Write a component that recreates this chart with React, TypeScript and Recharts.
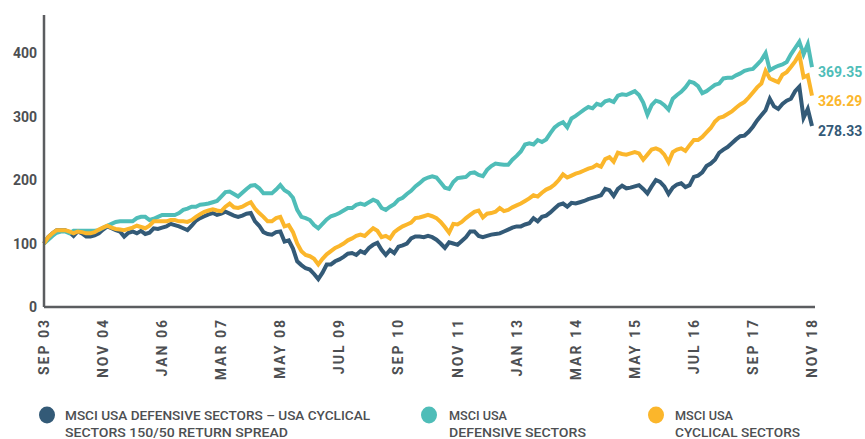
import React from 'react';
import { LineChart, Line, XAxis, YAxis, LabelList } from 'recharts';

if (typeof document !== 'undefined') {
  document.body.style.margin = '0';
}

const TICK_LABELS = ['SEP 03', 'NOV 04', 'JAN 06', 'MAR 07', 'MAY 08', 'JUL 09', 'SEP 10', 'NOV 11', 'JAN 13', 'MAR 14', 'MAY 15', 'JUL 16', 'SEP 17', 'NOV 18'];
const TICK_INDEX = [0, 14, 28, 42, 56, 70, 84, 98, 112, 126, 140, 154, 168, 182];
const Y_TICKS = [0, 100, 200, 300, 400];

// MSCI USA Defensive – Cyclical 150/50 return spread (monthly, Sep 03 – Nov 18)
const SPREAD = [
  100, 110, 116, 121, 121, 121, 118, 112, 119, 116,
  111, 111, 113, 116, 122, 127, 124, 121, 119, 111,
  117, 119, 116, 120, 115, 117, 124, 123, 125, 127,
  131, 129, 127, 124, 121, 128, 136, 140, 143, 146,
  148, 145, 147, 150, 147, 144, 142, 144, 147, 148,
  135, 128, 118, 115, 114, 118, 119, 103, 105, 92,
  72, 66, 61, 59, 52, 44, 54, 67, 67, 72,
  75, 79, 84, 85, 82, 88, 85, 93, 98, 101,
  90, 82, 90, 85, 95, 97, 100, 108, 111, 111,
  110, 112, 110, 106, 100, 93, 102, 100, 98, 104,
  110, 119, 119, 112, 110, 112, 114, 115, 116, 119,
  122, 125, 127, 127, 130, 132, 140, 135, 142, 144,
  149, 155, 161, 163, 158, 164, 163, 165, 167, 170,
  172, 174, 176, 186, 184, 175, 186, 191, 187, 188,
  190, 192, 186, 179, 190, 200, 197, 190, 178, 188,
  193, 195, 189, 192, 205, 207, 212, 222, 226, 232,
  243, 248, 252, 258, 264, 269, 270, 276, 284, 294,
  302, 310, 328, 316, 312, 320, 325, 328, 340, 347,
  298, 312, 285,
];

const DEFENSIVE = [
  100, 106, 112, 117, 119, 119, 116, 120, 120, 120,
  120, 120, 120, 121, 125, 128, 131, 134, 135, 135,
  135, 135, 140, 142, 142, 137, 139, 142, 145, 145,
  145, 145, 148, 153, 155, 158, 158, 161, 162, 163,
  165, 167, 174, 181, 182, 178, 174, 180, 186, 191,
  192, 187, 179, 179, 179, 185, 192, 184, 180, 172,
  153, 142, 140, 137, 129, 124, 131, 138, 143, 145,
  148, 152, 156, 156, 161, 163, 161, 165, 169, 166,
  156, 153, 158, 162, 169, 172, 178, 183, 190, 195,
  201, 204, 206, 204, 196, 188, 186, 197, 203, 204,
  205, 211, 212, 208, 206, 216, 222, 226, 225, 224,
  224, 232, 238, 245, 256, 258, 256, 263, 260, 264,
  274, 283, 288, 291, 283, 297, 301, 306, 311, 315,
  313, 320, 318, 324, 326, 323, 333, 335, 334, 337,
  340, 334, 322, 303, 318, 325, 323, 318, 311, 328,
  334, 339, 346, 355, 353, 348, 337, 340, 345, 350,
  352, 360, 361, 361, 365, 368, 372, 374, 375, 382,
  389, 400, 373, 377, 380, 382, 386, 398, 408, 418,
  398, 414, 378,
];

const CYCLICAL = [
  100, 110, 116, 121, 121, 121, 119, 116, 119, 118,
  116, 116, 118, 122, 125, 128, 125, 123, 122, 121,
  123, 125, 128, 126, 124, 128, 135, 135, 135, 135,
  137, 137, 135, 135, 134, 137, 142, 146, 150, 152,
  154, 152, 151, 158, 163, 157, 156, 158, 162, 165,
  155, 148, 142, 135, 135, 140, 142, 127, 129, 118,
  100, 88, 82, 80, 76, 67, 76, 83, 88, 93,
  96, 100, 105, 108, 112, 114, 112, 118, 124, 120,
  110, 112, 108, 118, 123, 127, 130, 133, 140, 141,
  143, 145, 143, 140, 134, 126, 117, 131, 130, 134,
  140, 145, 150, 152, 141, 147, 148, 150, 156, 151,
  153, 157, 160, 163, 167, 171, 176, 174, 180, 185,
  188, 193, 200, 209, 204, 207, 210, 212, 215, 218,
  220, 224, 221, 233, 236, 229, 243, 241, 240, 242,
  244, 242, 232, 240, 248, 250, 247, 240, 228, 244,
  248, 250, 246, 255, 263, 263, 268, 275, 282, 292,
  298, 300, 304, 308, 314, 319, 323, 330, 338, 346,
  352, 372, 360, 357, 354, 366, 370, 378, 387, 398,
  362, 365, 333,
];

const END_LABELS = { spread: '278.33', def: '369.35', cyc: '326.29' };

const COLORS = { spread: '#335a77', def: '#4fbdb8', cyc: '#fbb62b' };
const AXIS_COLOR = '#5b5d60';
const TEXT_COLOR = '#4d4f52';
const FONT = 'Roboto, "Open Sans", sans-serif';

const data = SPREAD.map((v, i) => ({ idx: i, spread: v, def: DEFENSIVE[i], cyc: CYCLICAL[i] }));
const LAST = SPREAD.length - 1;

const YTick = (props: any) => {
  const { x, y, payload } = props;
  return (
    <text x={x + 1} y={y} dy={5} textAnchor="end" fill={TEXT_COLOR} fontSize={14} fontWeight={700} fontFamily={FONT}>
      {payload.value}
    </text>
  );
};

const XTick = (props: any) => {
  const { x, y, payload } = props;
  const k = TICK_INDEX.indexOf(payload.value);
  const label = k >= 0 ? TICK_LABELS[k] : '';
  return (
    <text
      transform={`translate(${x},${y + 3}) rotate(-90)`}
      dy={5}
      textAnchor="end"
      fill={TEXT_COLOR}
      fontSize={14}
      fontWeight={700}
      letterSpacing={2}
      fontFamily={FONT}
    >
      {label}
    </text>
  );
};

const endLabel = (color: string, text: string) => (props: any) => {
  const { x, y, index } = props;
  if (index !== LAST) return null;
  return (
    <text x={x + 6} y={y + 5} dy={5} fill={color} fontSize={14} fontWeight={700} fontFamily={FONT}>
      {text}
    </text>
  );
};

const LEGEND = [
  { color: COLORS.spread, cx: 47, tx: 65, lines: ['MSCI USA DEFENSIVE SECTORS – USA CYCLICAL', 'SECTORS 150/50 RETURN SPREAD'], widths: [305, 223] },
  { color: COLORS.def, cx: 429, tx: 449, lines: ['MSCI USA', 'DEFENSIVE SECTORS'], widths: [58, 137] },
  { color: COLORS.cyc, cx: 656, tx: 675, lines: ['MSCI USA', 'CYCLICAL SECTORS'], widths: [58, 125] },
];

export default function App() {
  return (
    <div style={{ position: 'relative', width: 865, height: 439, background: '#fff', overflow: 'hidden' }}>
      <LineChart width={865} height={439} data={data} margin={{ top: 15, right: 50, bottom: 62, left: 0 }}>
        <XAxis
          dataKey="idx"
          type="number"
          domain={[0, LAST]}
          ticks={TICK_INDEX}
          interval={0}
          height={70}
          tickLine={false}
          axisLine={{ stroke: AXIS_COLOR, strokeWidth: 2.5 }}
          tick={<XTick />}
          padding={{ left: 0, right: 3 }}
        />
        <YAxis
          type="number"
          domain={[0, 460]}
          ticks={Y_TICKS}
          width={44}
          tickLine={false}
          axisLine={{ stroke: AXIS_COLOR, strokeWidth: 2.5 }}
          tick={<YTick />}
        />
        <Line type="linear" dataKey="spread" stroke={COLORS.spread} strokeWidth={4} dot={false} isAnimationActive={false}>
          <LabelList dataKey="spread" content={endLabel(COLORS.spread, END_LABELS.spread)} />
        </Line>
        <Line type="linear" dataKey="def" stroke={COLORS.def} strokeWidth={4} dot={false} isAnimationActive={false}>
          <LabelList dataKey="def" content={endLabel(COLORS.def, END_LABELS.def)} />
        </Line>
        <Line type="linear" dataKey="cyc" stroke={COLORS.cyc} strokeWidth={4} dot={false} isAnimationActive={false}>
          <LabelList dataKey="cyc" content={endLabel(COLORS.cyc, END_LABELS.cyc)} />
        </Line>
      </LineChart>
      <svg width={865} height={439} style={{ position: 'absolute', left: 0, top: 0, pointerEvents: 'none' }}>
        {LEGEND.map((item, i) => (
          <g key={i}>
            <ellipse cx={item.cx} cy={415} rx={8} ry={8.5} fill={item.color} />
            {item.lines.map((ln, j) => (
              <text
                key={j}
                x={item.tx}
                y={419.5 + j * 17}
                fill={TEXT_COLOR}
                fontSize={13.5}
                fontWeight={500}
                fontFamily={FONT}
                textLength={item.widths[j]}
                lengthAdjust="spacingAndGlyphs"
              >
                {ln}
              </text>
            ))}
          </g>
        ))}
      </svg>
    </div>
  );
}
